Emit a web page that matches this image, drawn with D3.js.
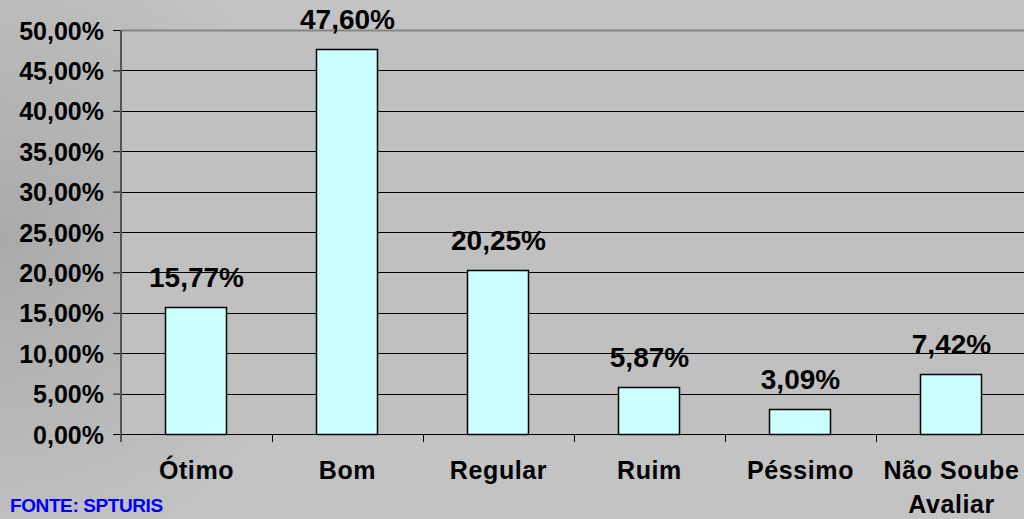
<!DOCTYPE html>
<html><head><meta charset="utf-8">
<script src="https://cdn.jsdelivr.net/npm/d3@7"></script>
<style>
html,body{margin:0;padding:0;background:#c0c0c0;overflow:hidden}
svg{display:block}
text{font-family:"Liberation Sans",Arial,sans-serif;font-weight:bold}
</style></head><body>
<svg id="c" width="1024" height="519"></svg>
<script>
const categories = ["Ótimo","Bom","Regular","Ruim","Péssimo","Não Soube|Avaliar"];
const values = [15.77, 47.60, 20.25, 5.87, 3.09, 7.42];
const yTicks = [0,5,10,15,20,25,30,35,40,45,50];
const source = "FONTE: SPTURIS";

const W = 1024, H = 519;
const m = {left:121, top:30, bottom:434, right:1027};
const svg = d3.select("#c");

const defs = svg.append("defs");
const rg = defs.append("radialGradient").attr("id","bg")
  .attr("gradientUnits","userSpaceOnUse").attr("cx",0).attr("cy",240).attr("r",330);
rg.append("stop").attr("offset","0%").attr("stop-color","#a9a9a9");
rg.append("stop").attr("offset","100%").attr("stop-color","#c3c3c3");
svg.append("rect").attr("width",W).attr("height",H).attr("fill","url(#bg)");

const x = d3.scaleBand().domain(categories).range([m.left, m.right]).padding(0);
const y = d3.scaleLinear().domain([0,50]).range([m.bottom, m.top]);

// plot area
svg.append("rect").attr("x",m.left).attr("y",m.top)
  .attr("width",m.right-m.left).attr("height",m.bottom-m.top).attr("fill","#c0c0c0");

// gridlines
svg.append("g").selectAll("line").data(yTicks.filter(t=>t>0 && t<50)).join("line")
  .attr("x1",m.left).attr("x2",W).attr("y1",d=>Math.round(y(d))+0.5).attr("y2",d=>Math.round(y(d))+0.5)
  .attr("stroke","#000").attr("stroke-width",1);
// top border
svg.append("line").attr("x1",m.left).attr("x2",W).attr("y1",y(50)+0.5).attr("y2",y(50)+0.5)
  .attr("stroke","#858585").attr("stroke-width",2);

// y axis
const yAxis = d3.axisLeft(y).tickValues(yTicks).tickSize(8).tickPadding(9)
  .tickFormat(d=>d3.format(".2f")(d).replace(".",",")+"%");
const ga = svg.append("g").attr("transform",`translate(${m.left},0)`).call(yAxis);
ga.select(".domain").remove();
ga.selectAll(".tick line").attr("stroke","#000");
ga.selectAll(".tick text").attr("font-size",25).attr("fill","#000")
  .attr("font-family","Liberation Sans, Arial, sans-serif").attr("font-weight","bold").attr("dy","0.36em");
svg.append("line").attr("x1",m.left).attr("x2",m.left).attr("y1",m.top).attr("y2",m.bottom+8)
  .attr("stroke","#555").attr("stroke-width",2);

// bars
const bw = x.bandwidth()*0.404;
svg.append("g").selectAll("rect").data(values).join("rect")
  .attr("x",(d,i)=>Math.round(x(categories[i])+x.bandwidth()/2-bw/2)-0.5)
  .attr("y",d=>Math.round(y(d))+0.5)
  .attr("width",Math.round(bw))
  .attr("height",d=>Math.round(y(0))-Math.round(y(d)))
  .attr("fill","#ccffff").attr("stroke","#000").attr("stroke-width",1.5);

// x axis line and ticks
svg.append("line").attr("x1",m.left).attr("x2",W).attr("y1",m.bottom+0.5).attr("y2",m.bottom+0.5)
  .attr("stroke","#000").attr("stroke-width",1.2);
svg.append("g").selectAll("line").data(categories.slice(1)).join("line")
  .attr("x1",d=>Math.round(x(d))+0.5).attr("x2",d=>Math.round(x(d))+0.5)
  .attr("y1",m.bottom).attr("y2",m.bottom+8).attr("stroke","#000");

// category labels
svg.append("g").selectAll("text").data(categories).join("text")
  .attr("x",d=>x(d)+x.bandwidth()/2).attr("y",479)
  .attr("text-anchor","middle").attr("font-size",25).attr("letter-spacing","0.6px")
  .each(function(d){
    const parts = d.split("|");
    const t = d3.select(this);
    parts.forEach((p,k)=>t.append("tspan").attr("x",x(d)+x.bandwidth()/2).attr("dy",k?"1.36em":0).text(p));
  });

// value labels
svg.append("g").selectAll("text").data(values).join("text")
  .attr("x",(d,i)=>x(categories[i])+x.bandwidth()/2)
  .attr("y",d=>y(d)-20)
  .attr("text-anchor","middle").attr("font-size",28)
  .text(d=>d3.format(".2f")(d).replace(".",",")+"%");

// source
svg.append("text").attr("x",10).attr("y",512).attr("font-size",19).attr("fill","#0000ff")
  .attr("letter-spacing","-0.4px").text(source);
</script>
</body></html>
